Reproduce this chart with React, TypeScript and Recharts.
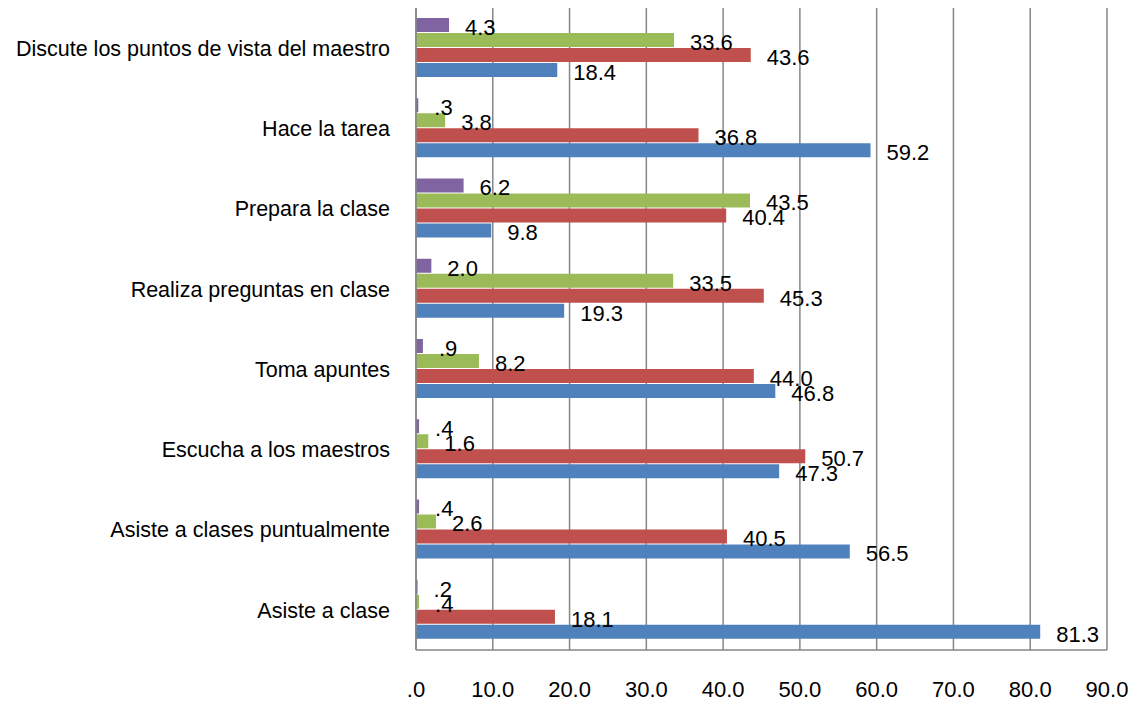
import { BarChart, Bar, XAxis, YAxis, CartesianGrid, LabelList } from 'recharts'

const categories = [
  'Discute los puntos de vista del maestro',
  'Hace la tarea',
  'Prepara la clase',
  'Realiza preguntas en clase',
  'Toma apuntes',
  'Escucha a los maestros',
  'Asiste a clases puntualmente',
  'Asiste a clase',
]

const blueValues = [18.4, 59.2, 9.8, 19.3, 46.8, 47.3, 56.5, 81.3]
const redValues = [43.6, 36.8, 40.4, 45.3, 44.0, 50.7, 40.5, 18.1]
const greenValues = [33.6, 3.8, 43.5, 33.5, 8.2, 1.6, 2.6, 0.4]
const purpleValues = [4.3, 0.3, 6.2, 2.0, 0.9, 0.4, 0.4, 0.2]

const xTicks = [0, 10, 20, 30, 40, 50, 60, 70, 80, 90]

const data = categories.map((name, i) => ({
  name,
  blue: blueValues[i],
  red: redValues[i],
  green: greenValues[i],
  purple: purpleValues[i],
}))

// formato tipo SPSS: .3 en vez de 0.3
const fmt = (v: number) => {
  const s = v.toFixed(1)
  return s.startsWith('0') ? s.slice(1) : s
}

const FONT = '"Liberation Sans", Arial, sans-serif'

const ValueLabel = (props: any) => {
  const { x, y, width, height, value } = props
  return (
    <text
      x={x + width + 16}
      y={y + height / 2 + 4}
      fontSize={22}
      fontFamily={FONT}
      fill="#000"
      dominantBaseline="middle"
    >
      {fmt(Number(value))}
    </text>
  )
}

const series = [
  { key: 'purple', color: '#8064A2' },
  { key: 'green', color: '#9BBB59' },
  { key: 'red', color: '#C0504D' },
  { key: 'blue', color: '#4F81BD' },
]

export default function App() {
  return (
    <div style={{ position: 'absolute', left: 0, top: 0, background: '#fff' }}>
      <BarChart
        width={1138}
        height={708}
        data={data}
        layout="vertical"
        margin={{ top: 8, right: 31, left: 0, bottom: 0 }}
        barCategoryGap={10}
        barGap={1}
      >
        <CartesianGrid horizontal={false} stroke="#868686" strokeWidth={1.5} />
        <XAxis
          type="number"
          domain={[0, 90]}
          ticks={xTicks}
          tickFormatter={(v: number) => fmt(v)}
          height={58}
          tickLine={false}
          tickMargin={25}
          axisLine={{ stroke: '#868686', strokeWidth: 1.5 }}
          tick={{ fontSize: 22, fontFamily: FONT, fill: '#000' }}
          interval={0}
        />
        <YAxis
          type="category"
          dataKey="name"
          width={416}
          tickLine={false}
          tickMargin={20}
          axisLine={{ stroke: '#868686', strokeWidth: 1.5 }}
          tick={{ fontSize: 21.5, fontFamily: FONT, fill: '#000' }}
          interval={0}
        />
        {series.map(s => (
          <Bar key={s.key} dataKey={s.key} fill={s.color} isAnimationActive={false}>
            <LabelList dataKey={s.key} content={ValueLabel} />
          </Bar>
        ))}
      </BarChart>
    </div>
  )
}
